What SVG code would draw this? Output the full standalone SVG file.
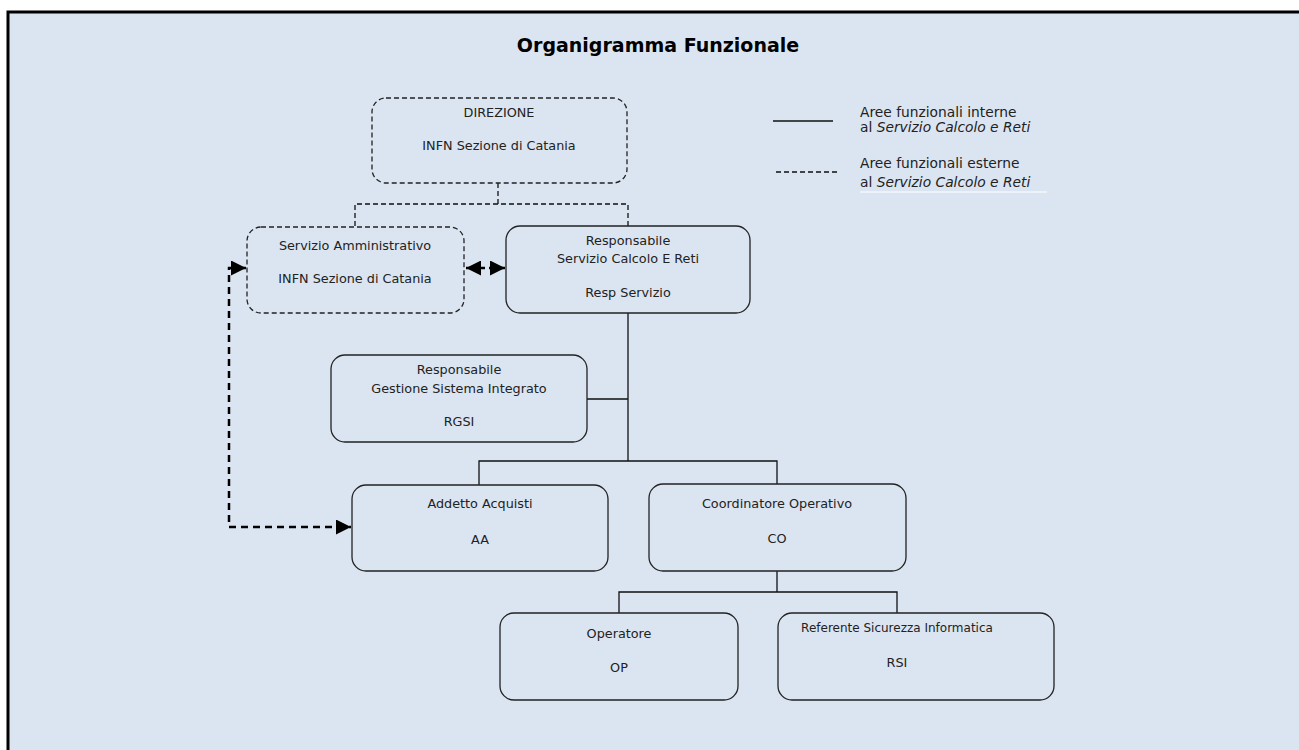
<svg xmlns="http://www.w3.org/2000/svg" width="1299" height="750" viewBox="0 0 1299 750">
<style>
text{font-family:"DejaVu Sans","Liberation Sans",sans-serif;font-size:12.8px;fill:#222;text-anchor:middle}
.t{font-size:19px;font-weight:bold;fill:#000}
.l{text-anchor:start;font-size:13.8px}
.s{font-size:12px}
.box{fill:none;stroke:#222;stroke-width:1.3}
.dbox{fill:none;stroke:#222;stroke-width:1.3;stroke-dasharray:5 3}
.ln{fill:none;stroke:#111;stroke-width:1.3}
.dln{fill:none;stroke:#111;stroke-width:1.3;stroke-dasharray:5 3}
.arr{fill:none;stroke:#000;stroke-width:2.5;stroke-dasharray:7 5}
</style>
<defs>
<marker id="ah" viewBox="0 0 10 10" refX="10" refY="5" markerWidth="6" markerHeight="6" orient="auto" markerUnits="strokeWidth">
<path d="M0,0 L10,5 L0,10 z" fill="#000"/>
</marker>
<marker id="as" viewBox="0 0 10 10" refX="0" refY="5" markerWidth="6" markerHeight="6" orient="auto" markerUnits="strokeWidth">
<path d="M10,0 L0,5 L10,10 z" fill="#000"/>
</marker>
</defs>
<rect x="0" y="0" width="1299" height="750" fill="#fff"/>
<rect x="8" y="12" width="1300" height="750" fill="#dbe5f1" stroke="#000" stroke-width="3"/>
<text class="t" x="658" y="52">Organigramma Funzionale</text>

<g id="legend">
<line x1="773" y1="121" x2="833" y2="121" stroke="#111" stroke-width="1.3"/>
<text class="l" x="860" y="117">Aree funzionali interne</text>
<text class="l" x="860" y="132">al <tspan font-style="italic">Servizio Calcolo e Reti</tspan></text>
<line x1="776" y1="172" x2="837" y2="172" stroke="#111" stroke-width="1.3" stroke-dasharray="5 3"/>
<text class="l" x="860" y="168">Aree funzionali esterne</text>
<text class="l" x="860" y="187">al <tspan font-style="italic">Servizio Calcolo e Reti</tspan></text>
<line x1="860" y1="192" x2="1047" y2="192" stroke="#fff" stroke-width="1"/>
</g>

<g id="connectors">
<path class="dln" d="M498,183 V204 M355,226 V204 H628 V226"/>
<path class="ln" d="M628,313 V461 M587,399 H628 M479,485 V461 H777 V484 M777,571 V592 M619,613 V592 H897 V613"/>
<path class="arr" d="M485,268 H466" marker-end="url(#ah)"/>
<path class="arr" d="M489,268 H505" marker-end="url(#ah)"/>
<path class="arr" d="M246,268 H229 V527 H351" marker-end="url(#ah)" marker-start="url(#as)"/>
</g>

<g id="direzione">
<rect class="dbox" x="372" y="98" width="255" height="85" rx="14"/>
<text x="499" y="117">DIREZIONE</text>
<text x="499" y="150">INFN Sezione di Catania</text>
</g>
<g id="servizio-amministrativo">
<rect class="dbox" x="247" y="227" width="217" height="86" rx="14"/>
<text x="355" y="250">Servizio Amministrativo</text>
<text x="355" y="283">INFN Sezione di Catania</text>
</g>
<g id="resp-servizio">
<rect class="box" x="506" y="226" width="244" height="87" rx="14"/>
<text x="628" y="245">Responsabile</text>
<text x="628" y="263">Servizio Calcolo E Reti</text>
<text x="628" y="297">Resp Servizio</text>
</g>
<g id="rgsi">
<rect class="box" x="331" y="355" width="256" height="87" rx="14"/>
<text x="459" y="374">Responsabile</text>
<text x="459" y="393">Gestione Sistema Integrato</text>
<text x="459" y="426">RGSI</text>
</g>
<g id="aa">
<rect class="box" x="352" y="485" width="256" height="86" rx="14"/>
<text x="480" y="508">Addetto Acquisti</text>
<text x="480" y="544">AA</text>
</g>
<g id="co">
<rect class="box" x="649" y="484" width="257" height="87" rx="14"/>
<text x="777" y="508">Coordinatore Operativo</text>
<text x="777" y="543">CO</text>
</g>
<g id="op">
<rect class="box" x="500" y="613" width="238" height="87" rx="14"/>
<text x="619" y="638">Operatore</text>
<text x="619" y="672">OP</text>
</g>
<g id="rsi">
<rect class="box" x="778" y="613" width="276" height="87" rx="14"/>
<text class="s" x="897" y="632">Referente Sicurezza Informatica</text>
<text x="897" y="667">RSI</text>
</g>
</svg>
